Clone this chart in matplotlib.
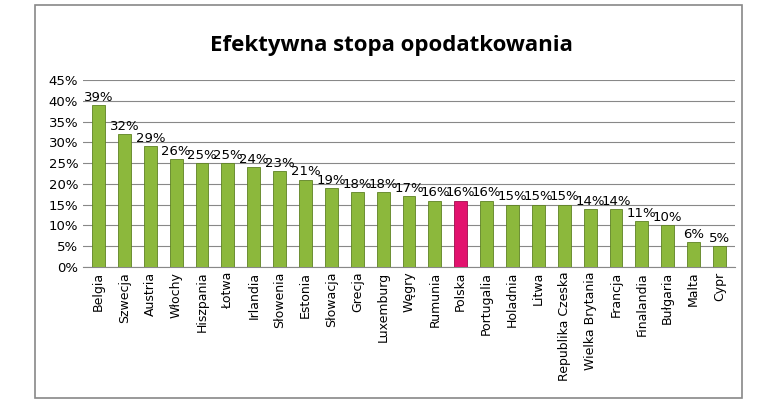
import matplotlib.pyplot as plt
import numpy as np
from matplotlib.patches import Rectangle

countries = ["Belgia", "Szwecja", "Austria", "Włochy", "Hiszpania", "Łotwa", "Irlandia",
             "Słowenia", "Estonia", "Słowacja", "Grecja", "Luxemburg", "Węgry", "Rumunia",
             "Polska", "Portugalia", "Holadnia", "Litwa", "Republika Czeska", "Wielka Brytania",
             "Francja", "Finalandia", "Bułgaria", "Malta", "Cypr"]
values = [39, 32, 29, 26, 25, 25, 24, 23, 21, 19, 18, 18, 17, 16, 16, 16, 15, 15, 15, 14,
          14, 11, 10, 6, 5]

plt.rcParams['font.family'] = ['Liberation Sans Narrow', 'DejaVu Sans']

fig = plt.figure(figsize=(7.83, 4.08), dpi=100)
fig.patches.append(Rectangle((35 / 783, 10 / 408), 707 / 783, 393 / 408, transform=fig.transFigure,
                             fill=False, edgecolor="#888888", linewidth=1.2))
ax = fig.add_axes([83 / 783, 1 - 267 / 408, 652 / 783, 187 / 408])

x = np.arange(len(values))
colors = ["#E2126E" if c == "Polska" else "#8CB83C" for c in countries]
edges = ["#A00A4C" if c == "Polska" else "#5E8222" for c in countries]
ax.bar(x, values, width=0.5, color=colors, edgecolor=edges, linewidth=0.6, zorder=3)
for xi, v in zip(x, values):
    ax.text(xi, v + 0.3, f"{v}%", ha="center", va="bottom", fontsize=9.5, zorder=4)

ax.set_ylim(0, 45)
ax.set_xlim(-0.6, len(values) - 0.4)
ax.set_yticks(range(0, 46, 5))
ax.set_yticklabels([f"{t}%" for t in range(0, 46, 5)], fontsize=9.5)
ax.set_xticks(x)
ax.set_xticklabels(countries, rotation=90, fontsize=9)
ax.tick_params(length=0)
ax.grid(axis="y", color="#888888", linewidth=0.8, zorder=0)
for s in ["top", "right", "left"]:
    ax.spines[s].set_visible(False)
ax.spines["bottom"].set_color("#888888")

fig.text(0.5, 1 - 45 / 408, "Efektywna stopa opodatkowania", ha="center", va="center",
         fontsize=16, fontweight="bold", family=["Open Sans", "DejaVu Sans"])

fig.savefig("out.png", dpi=100)
